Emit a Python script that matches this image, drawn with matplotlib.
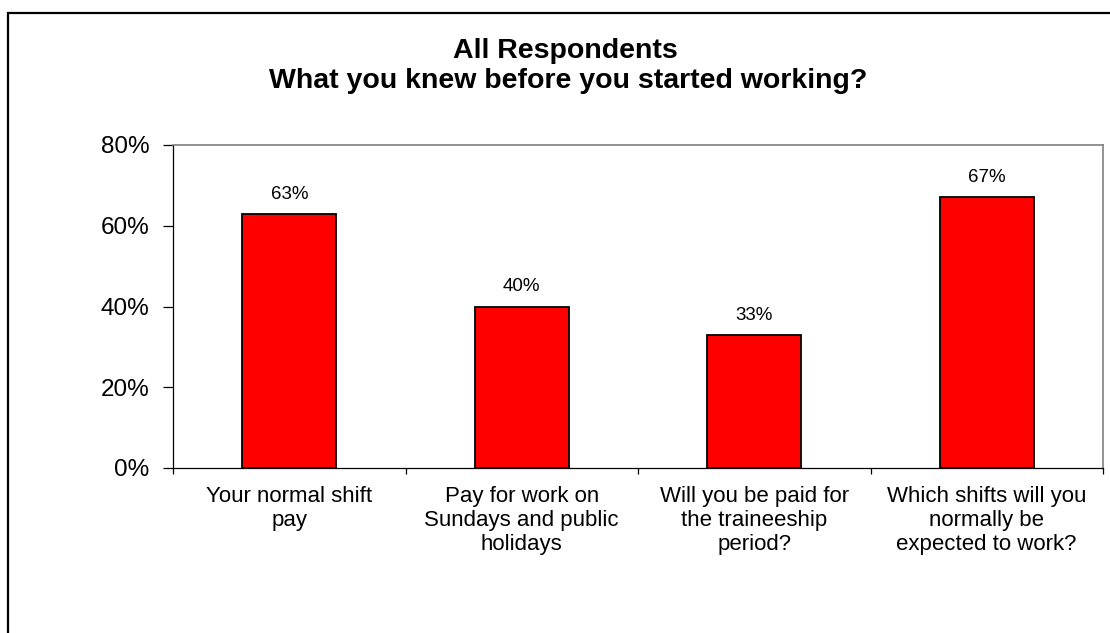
import matplotlib.pyplot as plt
from matplotlib.patches import Rectangle
from matplotlib.ticker import FuncFormatter

plt.rcParams['font.family'] = ['Liberation Sans', 'DejaVu Sans']

# survey answers, share of respondents
categories = ["Your normal shift\npay",
              "Pay for work on\nSundays and public\nholidays",
              "Will you be paid for\nthe traineeship\nperiod?",
              "Which shifts will you\nnormally be\nexpected to work?"]
values = [63, 40, 33, 67]
y_ticks = [0, 20, 40, 60, 80]

W, H = 1110, 633
fig = plt.figure(figsize=(W / 100, H / 100), dpi=100)

# outer chart frame (runs off the right and bottom edge)
fig.patches.append(Rectangle((8 / W, -0.05), 1.1, (H - 13) / H + 0.05,
                             transform=fig.transFigure, fill=False,
                             edgecolor='black', linewidth=1.6))

ax = fig.add_axes([173 / W, 1 - 468 / H, (1103 - 173) / W, (468 - 145) / H])

x = list(range(len(values)))
bars = ax.bar(x, values, width=0.405, color='#ff0000', edgecolor='black', linewidth=1.3)

for b, v in zip(bars, values):
    ax.annotate(f'{v}%', (b.get_x() + b.get_width() / 2, v), xytext=(0, 11),
                textcoords='offset pixels', ha='center', va='bottom', fontsize=13.5)

ax.set_xlim(-0.5, len(values) - 0.5)
ax.set_ylim(0, 80)
ax.set_yticks(y_ticks)
ax.yaxis.set_major_formatter(FuncFormatter(lambda v, p: f'{v:.0f}%'))
ax.tick_params(axis='y', direction='out', length=7, width=0.9, pad=10, labelsize=17.5)

# category labels sit between boundary ticks
ax.set_xticks([i + 0.5 for i in range(-1, len(values))])
ax.set_xticklabels([])
ax.tick_params(axis='x', direction='out', length=4, width=0.9)
for i, lab in enumerate(categories):
    ax.text(i, -0.055, lab, transform=ax.get_xaxis_transform(), ha='center', va='top',
            fontsize=16, linespacing=1.21)

for side in ['top', 'right']:
    ax.spines[side].set_color('#808080')
    ax.spines[side].set_linewidth(1.2)
for side in ['left', 'bottom']:
    ax.spines[side].set_color('black')
    ax.spines[side].set_linewidth(0.9)

fig.text(565 / W, 1 - 51 / H, 'All Respondents', ha='center', va='center',
         fontsize=20.5, fontweight='bold')
fig.text(568 / W, 1 - 81 / H, 'What you knew before you started working?', ha='center',
         va='center', fontsize=20.5, fontweight='bold')

fig.savefig('out.png', dpi=100)
